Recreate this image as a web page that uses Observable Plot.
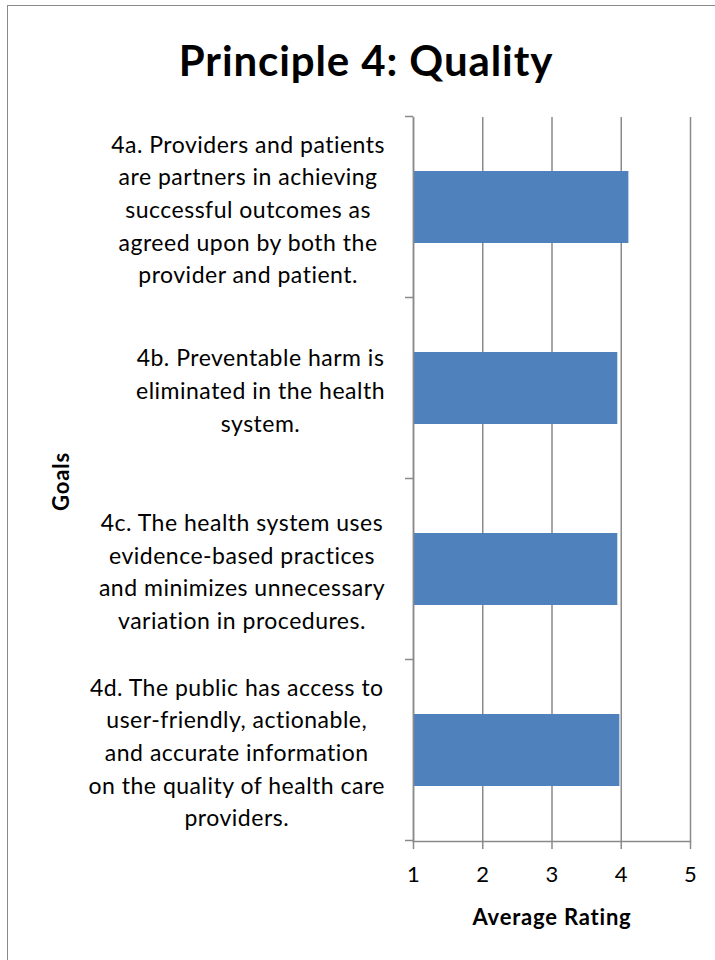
<!DOCTYPE html>
<html>
<head>
<meta charset="utf-8">
<script src="https://cdn.jsdelivr.net/npm/d3@7"></script>
<script src="https://cdn.jsdelivr.net/npm/@observablehq/plot@0.6"></script>
<style>
  html, body { margin: 0; padding: 0; background: #fff; }
  body { width: 715px; height: 960px; position: relative; overflow: hidden; font-family: Lato, "Open Sans", sans-serif; font-variant-ligatures: none; }
  #frame { position: absolute; left: 7px; top: 5px; width: 760px; height: 1000px; border-top: 1.5px solid #8a8a8a; border-left: 1.5px solid #8a8a8a; box-sizing: border-box; }
  #title { position: absolute; left: 0; top: 32px; width: 732px; text-align: center; font-weight: 700; font-size: 42px; letter-spacing: 0.9px; line-height: 56px; color: #000; }
  #chart { position: absolute; left: 0; top: 100px; }
  #chart svg text { font-variant-ligatures: none; }
  #chart [aria-label="y-axis tick label"] text { letter-spacing: 0.5px; }
  #chart [aria-label="x-axis tick label"] text { letter-spacing: 0.3px; }
  #chart [aria-label="text"] text { letter-spacing: 0.8px; }
</style>
</head>
<body>
<div id="frame"></div>
<div id="title">Principle 4: Quality</div>
<div id="chart"></div>
<script>
const goals = [
  "4a. Providers and patients\nare partners in achieving\nsuccessful outcomes as\nagreed upon by both the\nprovider and patient.",
  "4b. Preventable harm is\neliminated in the health\nsystem.",
  "4c. The health system uses\nevidence-based practices\nand minimizes unnecessary\nvariation in procedures.",
  "4d. The public has access to\nuser-friendly, actionable,\nand accurate information\non the quality of health care\nproviders."
];
const ratings = [4.11, 3.95, 3.95, 3.98];
const xTicks = [1, 2, 3, 4, 5];
const xDomain = [1, 5];

const data = goals.map((g, i) => ({goal: g, rating: ratings[i]}));

const chart = Plot.plot({
  width: 715,
  height: 860,
  marginTop: 17,
  marginLeft: 413,
  marginRight: 25,
  marginBottom: 119,
  style: {fontFamily: "Lato, 'Open Sans', sans-serif", fontSize: "23px", color: "#000", background: "transparent", overflow: "visible"},
  x: {domain: xDomain, ticks: xTicks, label: null},
  y: {domain: goals, paddingInner: 0.6, paddingOuter: 0.3, label: null},
  marks: [
    Plot.gridX(xTicks, {stroke: "#8a8a8a", strokeOpacity: 1, strokeWidth: 1.5}),
    Plot.barX(data, {x1: () => xDomain[0], x2: "rating", y: "goal", fill: "#4F81BD", inset: 0}),
    Plot.axisX(xTicks, {tickSize: 8, tickPadding: 17, stroke: "#8a8a8a", strokeWidth: 1.5, fontSize: 22, label: null, tickFormat: d => String(d)}),
    Plot.axisY({tickSize: 0, tickPadding: 28, fontSize: 23, lineHeight: 1.42, textAnchor: "middle", label: null}),
    Plot.frame({anchor: "left", stroke: "#8a8a8a", strokeWidth: 1.5}),
    Plot.frame({anchor: "bottom", stroke: "#8a8a8a", strokeWidth: 1.5}),
    Plot.text(["Average Rating"], {frameAnchor: "bottom", textAnchor: "middle", lineAnchor: "middle", dy: 76, fontWeight: "bold", fontSize: 22}),
    Plot.text(["Goals"], {frameAnchor: "left", textAnchor: "middle", rotate: -90, dx: -352, dy: 2, fontWeight: "bold", fontSize: 22})
  ]
});
document.getElementById("chart").appendChild(chart);

// Right-align each label block (lines centered within the block) to the left of the axis
const labelRight = 385;
d3.select(chart).selectAll('[aria-label="y-axis tick label"] text').each(function() {
  const bb = this.getBBox();
  const ctm = this.getCTM();
  const right = ctm.a * (bb.x + bb.width) + ctm.e;
  const shift = labelRight - right;
  const t = this.getAttribute("transform") || "";
  this.setAttribute("transform", `translate(${shift},0) ${t}`);
});

// Tick marks on the y axis at band boundaries, from the library's y scale
const ys = chart.scale("y");
const xs = chart.scale("x");
const gap = (ys.step - ys.bandwidth) / 2;
const bounds = goals.map(g => ys.apply(g) - gap).concat([ys.apply(goals[goals.length - 1]) + ys.bandwidth + gap]);
const x0 = xs.apply(xDomain[0]);
d3.select(chart).append("g").attr("aria-label", "y-ticks")
  .selectAll("line").data(bounds).join("line")
  .attr("x1", x0 - 8).attr("x2", x0).attr("y1", d => d).attr("y2", d => d)
  .attr("stroke", "#8a8a8a").attr("stroke-width", 1.5);
</script>
</body>
</html>
